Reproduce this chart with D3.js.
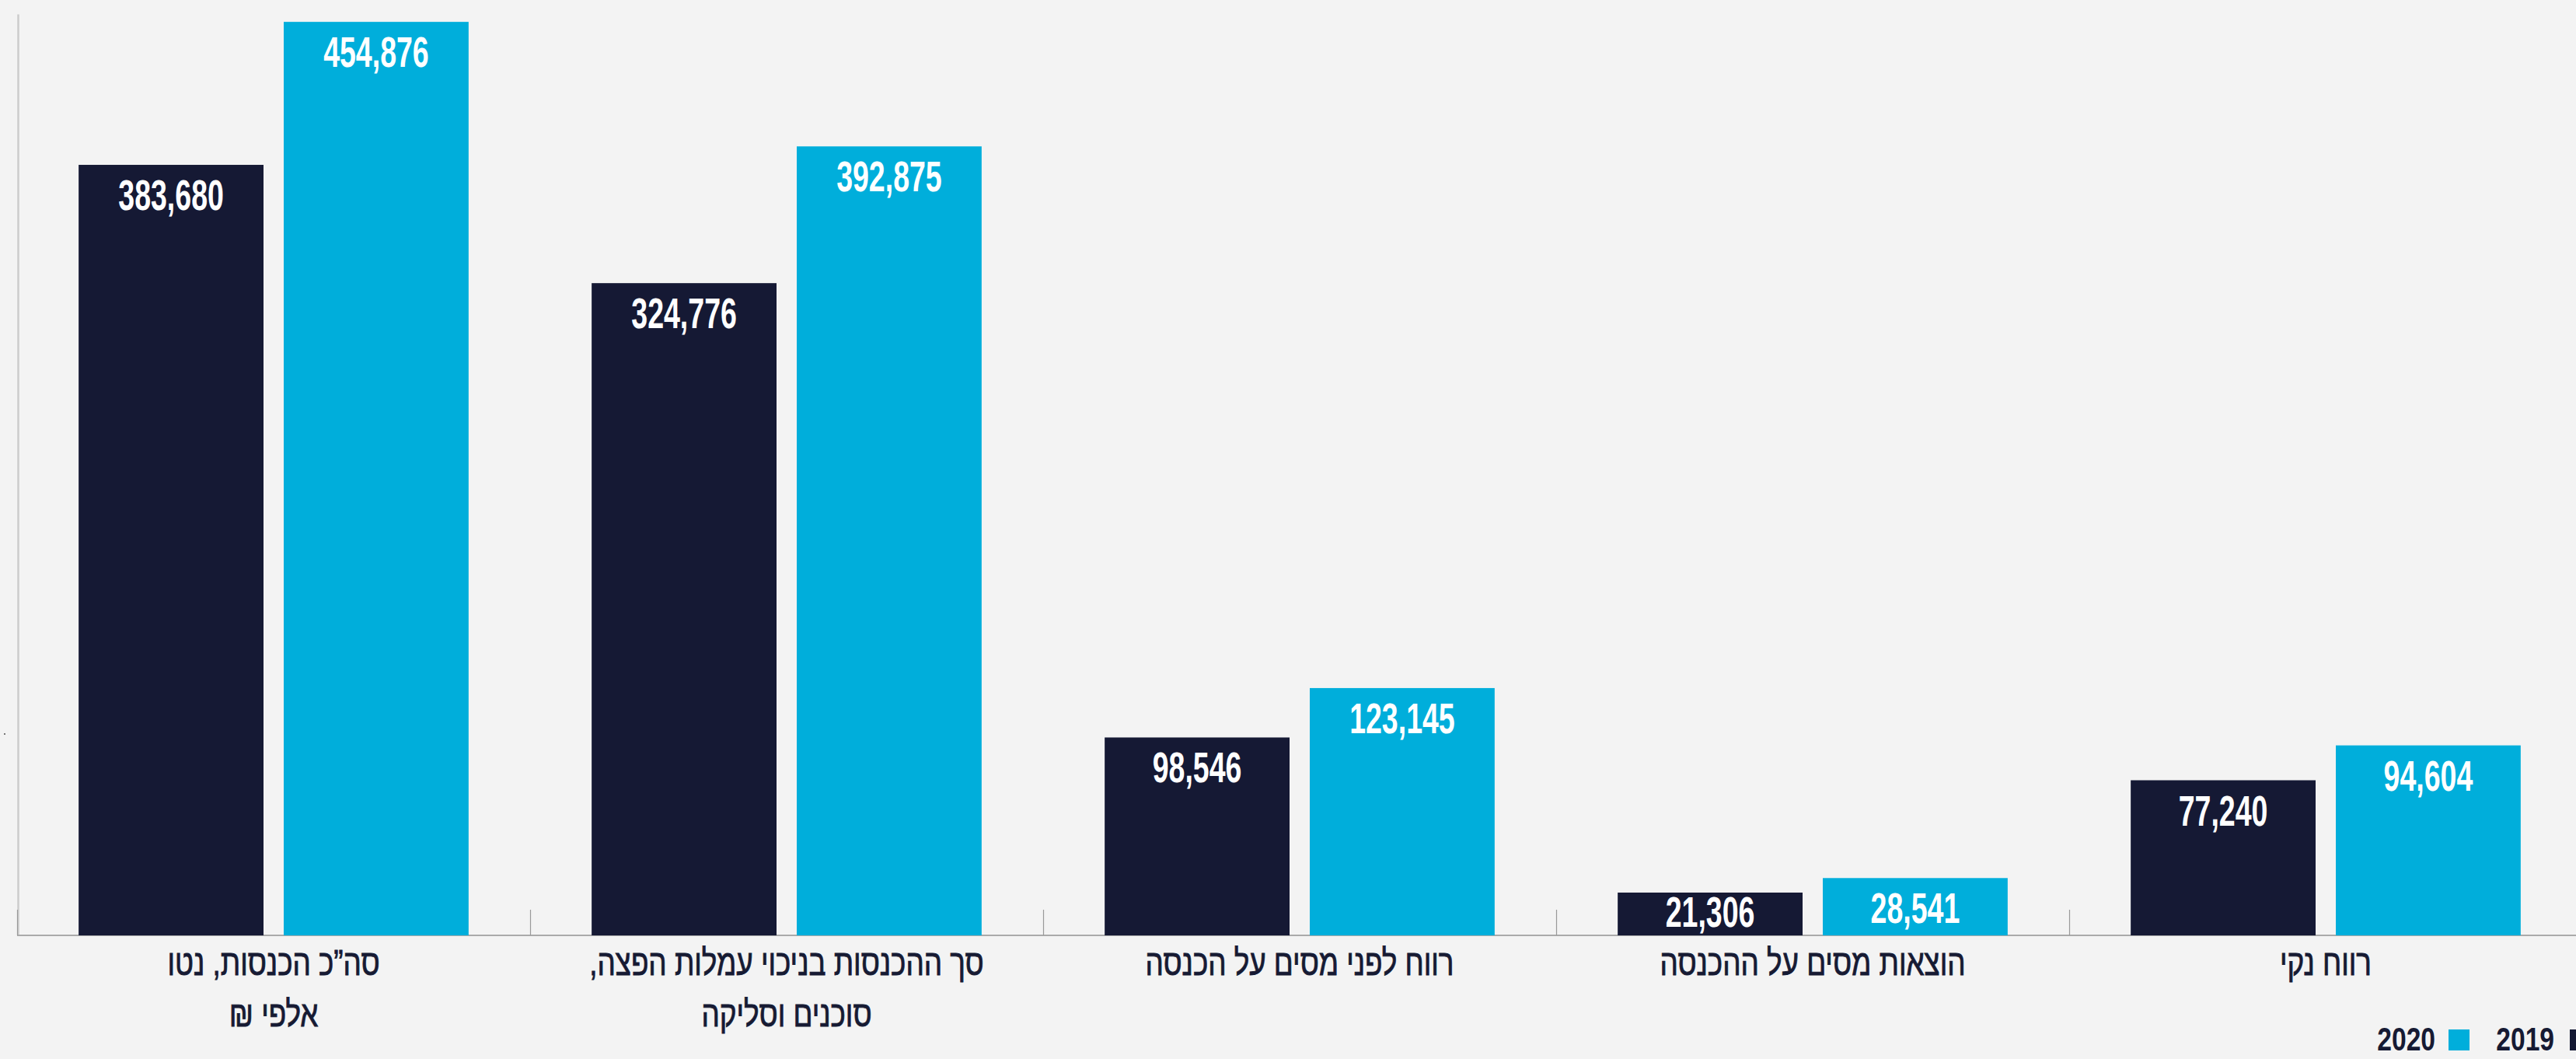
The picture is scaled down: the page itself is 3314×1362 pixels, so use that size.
<!DOCTYPE html>
<html lang="he">
<head>
<meta charset="utf-8">
<script src="https://cdn.jsdelivr.net/npm/d3@7"></script>
<style>
  html, body { margin: 0; padding: 0; background: #f3f3f3; overflow: hidden; }
  svg { display: block; }
</style>
</head>
<body>
<svg id="chart" width="3314" height="1362"></svg>
<script>
// ---- data ----
const categories = [
  ["סה”כ הכנסות, נטו", "אלפי ₪"],
  ["סך ההכנסות בניכוי עמלות הפצה,", "סוכנים וסליקה"],
  ["רווח לפני מסים על הכנסה"],
  ["הוצאות מסים על ההכנסה"],
  ["רווח נקי"]
];
const seriesNames = ["2019", "2020"];
const values2019 = [383680, 324776, 98546, 21306, 77240];
const values2020 = [454876, 392875, 123145, 28541, 94604];
const legendLabels = ["2019", "2020"];
const yDomainMax = 458800;

// ---- styles ----
const W = 3314, H = 1362;
const colors = { "2019": "#151934", "2020": "#00aedb" };
const textDark = "#161a33";

const svg = d3.select("#chart");
svg.append("rect").attr("width", W).attr("height", H).attr("fill", "#f3f3f3");

const baseY = 1203, topY = 18, leftX = 22, rightX = 3322;

const x0 = d3.scaleBand().domain(d3.range(categories.length)).range([leftX, rightX]).padding(0);
const x1 = d3.scaleBand().domain(seriesNames).range([0, x0.bandwidth()]).paddingInner(0.0985).paddingOuter(0.3);
const y = d3.scaleLinear().domain([0, yDomainMax]).range([baseY, topY]);

const rows = categories.map((c, i) => ({ i, vals: [
  { s: "2019", v: values2019[i] },
  { s: "2020", v: values2020[i] }
]}));

// y axis line (no ticks)
const yAxis = d3.axisLeft(y).tickValues([]).tickSizeOuter(0);
const gy = svg.append("g").attr("transform", `translate(${leftX + 1},0)`).call(yAxis);
gy.select(".domain").attr("stroke", "#cccccc").attr("stroke-width", 2.5);

// x axis: baseline + band boundary ticks pointing up
const boundaries = d3.range(categories.length + 1).map(i => leftX + i * x0.step());
const gx = svg.append("g");
gx.append("line").attr("x1", leftX).attr("x2", W).attr("y1", baseY).attr("y2", baseY)
  .attr("stroke", "#aaaaaa").attr("stroke-width", 2);
gx.selectAll("line.tick").data(boundaries).join("line").attr("class", "tick")
  .attr("x1", d => d + 0.5).attr("x2", d => d + 0.5)
  .attr("y1", baseY - 33).attr("y2", baseY)
  .attr("stroke", "#999999").attr("stroke-width", 1.2);

// bars
const groups = svg.append("g").selectAll("g").data(rows).join("g")
  .attr("transform", d => `translate(${x0(d.i)},0)`);

groups.selectAll("rect").data(d => d.vals).join("rect")
  .attr("x", d => x1(d.s))
  .attr("y", d => y(d.v))
  .attr("width", x1.bandwidth())
  .attr("height", d => baseY - y(d.v))
  .attr("fill", d => colors[d.s]);

// value labels
const fmt = d3.format(",");
groups.selectAll("g.vl").data(d => d.vals).join("g").attr("class", "vl")
  .attr("transform", d => {
    const h = baseY - y(d.v);
    const off = Math.min(58, h * 0.8);
    return `translate(${x1(d.s) + x1.bandwidth() / 2},${y(d.v) + off}) scale(0.67,1)`;
  })
  .append("text")
  .attr("text-anchor", "middle")
  .attr("font-family", "'Liberation Sans', Arial, sans-serif")
  .attr("font-weight", 700)
  .attr("font-size", 56)
  .attr("fill", "#ffffff")
  .text(d => fmt(d.v));

// category labels
const catG = svg.append("g").selectAll("g").data(categories).join("g")
  .attr("transform", (d, i) => `translate(${x0(i) + x0.bandwidth() / 2},0)`);
catG.selectAll("g.ln").data(d => d).join("g").attr("class", "ln")
  .attr("transform", (d, j) => `translate(0,${1254 + j * 66}) scale(0.8,1)`)
  .append("text")
  .attr("text-anchor", "middle")
  .attr("direction", "rtl")
  .attr("font-family", "'Liberation Sans', Arial, sans-serif")
  .attr("font-size", 46)
  .attr("fill", textDark)
  .attr("stroke", textDark)
  .attr("stroke-width", 0.9)
  .text(d => d);

// legend (right to left)
const legend = svg.append("g");
const legendItems = [
  { label: legendLabels[0], color: colors["2019"], sq: 3306, tx: 3286 },
  { label: legendLabels[1], color: colors["2020"], sq: 3150, tx: 3133 }
];
legendItems.forEach(it => {
  legend.append("rect").attr("x", it.sq).attr("y", 1324).attr("width", 27).attr("height", 27).attr("fill", it.color);
  legend.append("g").attr("transform", `translate(${it.tx},1351) scale(0.8,1)`)
    .append("text").attr("text-anchor", "end")
    .attr("font-family", "'Liberation Sans', Arial, sans-serif")
    .attr("font-weight", 700).attr("font-size", 42)
    .attr("fill", textDark).text(it.label);
});

// stray small mark at left
svg.append("rect").attr("x", 5).attr("y", 943).attr("width", 2).attr("height", 2).attr("fill", "#777");
</script>
</body>
</html>
